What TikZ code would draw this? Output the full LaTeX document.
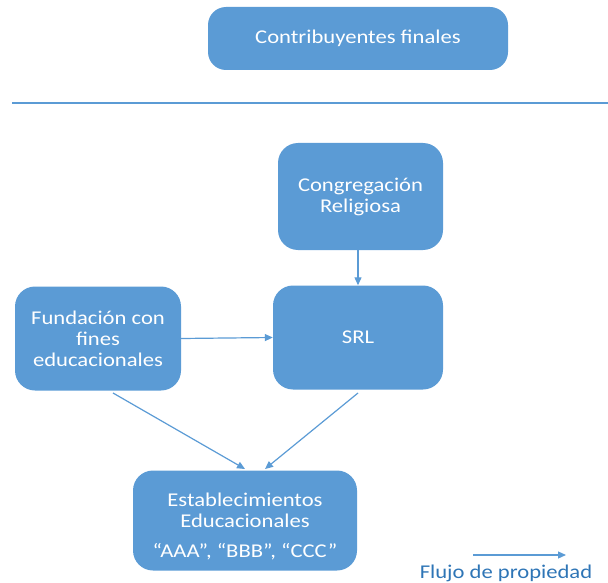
\documentclass[tikz,border=0pt]{standalone}
\usepackage{fontspec}
\setmainfont{Carlito}[FakeStretch=1.16]
\usetikzlibrary{arrows.meta}
\definecolor{boxblue}{HTML}{5B9BD5}
\definecolor{txtblue}{HTML}{2E75B6}
\tikzset{
  box/.style={fill=boxblue, draw=none, rounded corners=20pt, text=white, font=\fontsize{19.5}{21}\selectfont, align=center, inner sep=0pt},
  flow/.style={draw=boxblue, line width=1.2pt, -{Triangle[length=8pt,width=7pt]}}
}
\begin{document}
\begin{tikzpicture}[x=1pt,y=-1pt]
\useasboundingbox (0,0) rectangle (608,583);
\node[box, rounded corners=18pt, minimum width=300pt, minimum height=63pt] (top) at (358,38.5) {Contribuyentes finales};
\draw[boxblue, line width=2pt] (12,103) -- (608,103);
\node[box, minimum width=165pt, minimum height=107pt] (cong) at (360.5,196.5) {Congregación\\Religiosa};
\node[box, minimum width=170pt, minimum height=104pt] (srl) at (358,337.5) {SRL};
\node[box, minimum width=166pt, minimum height=104pt] (fund) at (98,338.5) {Fundación con\\fines\\educacionales};
\node[box, minimum width=224pt, minimum height=100pt, align=center] (est) at (245,520.5) {\rule{0pt}{25pt}Establecimientos\\Educacionales\\[9pt]“AAA”, “BBB”, “CCC”};
\draw[flow] (cong.south -| srl.north) -- (srl.north);
\draw[flow] (fund.east) -- (srl.west);
\coordinate (f1) at (113,393);
\coordinate (e1) at (245,469);
\coordinate (s1) at (358,393);
\coordinate (e2) at (265,469);
\draw[flow] (f1) -- (e1);
\draw[flow] (s1) -- (e2);
\coordinate (l1) at (473,555);
\coordinate (l2) at (566,555);
\draw[flow] (l1) -- (l2);
\node[text=txtblue, font=\fontsize{19.5}{21}\selectfont, inner sep=0pt] (leg) at (506,573) {Flujo de propiedad};
\end{tikzpicture}
\end{document}
